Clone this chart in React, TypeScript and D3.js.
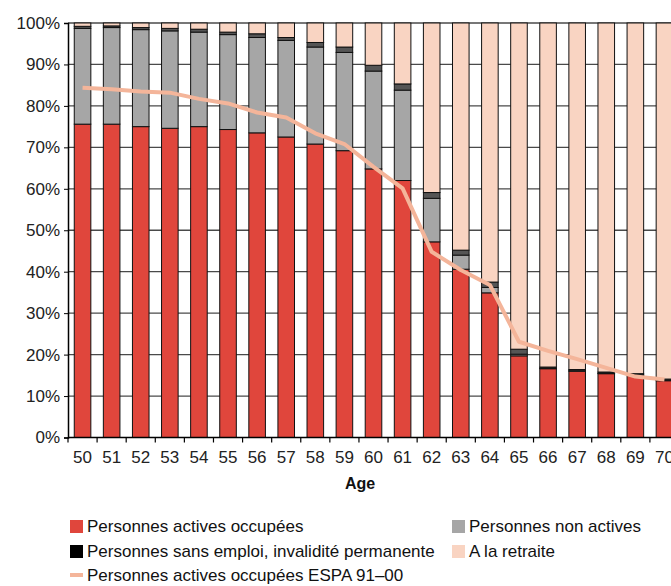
import { useRef, useEffect } from 'react'
import * as d3 from 'd3'

const ages = ['50', '51', '52', '53', '54', '55', '56', '57', '58', '59', '60', '61', '62', '63', '64', '65', '66', '67', '68', '69', '70']
const actives = [75.6, 75.6, 75.0, 74.6, 75.0, 74.3, 73.5, 72.5, 70.8, 69.2, 64.8, 62.0, 47.2, 40.6, 34.9, 19.7, 16.6, 16.0, 15.4, 15.0, 13.7]
const nonActives = [23.1, 23.3, 23.4, 23.5, 22.8, 22.9, 23.0, 23.3, 23.4, 23.7, 23.6, 21.8, 10.5, 3.4, 1.3, 0.4, 0.1, 0.1, 0.1, 0.1, 0.1]
const sansEmploi = [0.5, 0.4, 0.5, 0.6, 0.7, 0.6, 0.9, 0.7, 1.1, 1.3, 1.4, 1.5, 1.4, 1.2, 1.3, 1.2, 0.3, 0.3, 0.3, 0.3, 0.3]
const espa = [84.4, 84.0, 83.5, 83.2, 81.7, 80.6, 78.4, 77.2, 73.4, 70.8, 65.3, 60.1, 44.8, 40.4, 36.8, 23.1, 20.9, 18.9, 16.8, 14.7, 14.0]
const yTicks = [0, 10, 20, 30, 40, 50, 60, 70, 80, 90, 100]

const keys = ['actives', 'nonActives', 'sansEmploi', 'retraite']
const colors: Record<string, string> = {
  actives: '#e0463c',
  nonActives: '#a6a6a6',
  sansEmploi: '#555555',
  retraite: '#f9d4c2',
}
const lineColor = '#f4b59a'
const font = "'Liberation Sans', Arial, sans-serif"

const App = () => {
  const ref = useRef<SVGSVGElement>(null)

  useEffect(() => {
    if (!ref.current) return
    const svg = d3.select(ref.current)
    svg.selectAll('*').remove()

    const left = 68
    const top = 23
    const bottom = 437.5
    const right = 679

    const rows = ages.map((age, i) => ({
      age,
      actives: actives[i],
      nonActives: nonActives[i],
      sansEmploi: sansEmploi[i],
      retraite: 100 - actives[i] - nonActives[i] - sansEmploi[i],
    }))

    const x = d3.scaleBand().domain(ages).range([left, right]).paddingInner(0.43).paddingOuter(0.215)
    const y = d3.scaleLinear().domain([0, 100]).range([bottom, top])

    // gridlines
    svg
      .append('g')
      .selectAll('line')
      .data(yTicks.slice(1))
      .enter()
      .append('line')
      .attr('x1', left)
      .attr('x2', right)
      .attr('y1', (d) => y(d))
      .attr('y2', (d) => y(d))
      .attr('stroke', '#4a4a4a')
      .attr('stroke-width', 1.3)

    const series = d3.stack<any>().keys(keys)(rows)

    svg
      .append('g')
      .selectAll('g')
      .data(series)
      .enter()
      .append('g')
      .attr('fill', (d) => colors[d.key])
      .selectAll('rect')
      .data((d) => d)
      .enter()
      .append('rect')
      .attr('x', (d) => x(d.data.age)!)
      .attr('width', x.bandwidth())
      .attr('y', (d) => y(d[1]))
      .attr('height', (d) => y(d[0]) - y(d[1]))
      .attr('stroke', '#111')
      .attr('stroke-width', 1)

    const line = d3
      .line<number>()
      .x((_, i) => x(ages[i])! + x.bandwidth() / 2)
      .y((d) => y(d))

    svg
      .append('path')
      .datum(espa)
      .attr('d', line)
      .attr('fill', 'none')
      .attr('stroke', lineColor)
      .attr('stroke-width', 4)
      .attr('stroke-linejoin', 'round')

    // axes
    const yAxis = svg
      .append('g')
      .attr('transform', `translate(${left},0)`)
      .call(
        d3
          .axisLeft(y)
          .tickValues(yTicks)
          .tickSize(4)
          .tickPadding(4)
          .tickFormat((d) => `${d}%`)
      )
    yAxis.select('.domain').attr('stroke', '#000').attr('stroke-width', 1.5)
    yAxis.selectAll('text').attr('font-size', 17).attr('font-family', font).attr('fill', '#222')

    svg
      .append('line')
      .attr('x1', left)
      .attr('x2', right)
      .attr('y1', bottom)
      .attr('y2', bottom)
      .attr('stroke', '#000')
      .attr('stroke-width', 1.5)

    const step = x.step()
    svg
      .append('g')
      .selectAll('line')
      .data(d3.range(ages.length + 1))
      .enter()
      .append('line')
      .attr('x1', (i) => left + i * step)
      .attr('x2', (i) => left + i * step)
      .attr('y1', bottom)
      .attr('y2', bottom + 5)
      .attr('stroke', '#000')
      .attr('stroke-width', 1.2)

    svg
      .append('g')
      .selectAll('text')
      .data(ages)
      .enter()
      .append('text')
      .attr('x', (d) => x(d)! + x.bandwidth() / 2)
      .attr('y', 463)
      .attr('text-anchor', 'middle')
      .attr('font-size', 17)
      .attr('font-family', font)
      .attr('fill', '#222')
      .text((d) => d)

    svg
      .append('text')
      .attr('x', 360)
      .attr('y', 489)
      .attr('text-anchor', 'middle')
      .attr('font-size', 16)
      .attr('font-weight', 'bold')
      .attr('font-family', font)
      .attr('fill', '#111')
      .text('Age')

    // legend
    const legend = [
      { label: 'Personnes actives occupées', color: colors.actives, x: 70, y: 526, type: 'rect' },
      { label: 'Personnes non actives', color: colors.nonActives, x: 452, y: 526, type: 'rect' },
      { label: 'Personnes sans emploi, invalidité permanente', color: '#000', x: 70, y: 551, type: 'rect' },
      { label: 'A la retraite', color: colors.retraite, x: 452, y: 551, type: 'rect' },
      { label: 'Personnes actives occupées ESPA 91–00', color: lineColor, x: 70, y: 575, type: 'line' },
    ]
    const lg = svg.append('g').selectAll('g').data(legend).enter().append('g')
    lg.filter((d) => d.type === 'rect')
      .append('rect')
      .attr('x', (d) => d.x)
      .attr('y', (d) => d.y - 6)
      .attr('width', 13)
      .attr('height', 13)
      .attr('fill', (d) => d.color)
    lg.filter((d) => d.type === 'line')
      .append('rect')
      .attr('x', (d) => d.x)
      .attr('y', (d) => d.y - 2)
      .attr('width', 13)
      .attr('height', 4)
      .attr('fill', (d) => d.color)
    lg.append('text')
      .attr('x', (d) => d.x + 17)
      .attr('y', (d) => d.y + 6)
      .attr('font-size', 17)
      .attr('font-family', font)
      .attr('fill', '#111')
      .text((d) => d.label)
  }, [])

  return (
    <svg
      ref={ref}
      width={671}
      height={586}
      style={{ position: 'absolute', left: 0, top: 0, background: '#fff', overflow: 'hidden' }}
    />
  )
}

export default App
